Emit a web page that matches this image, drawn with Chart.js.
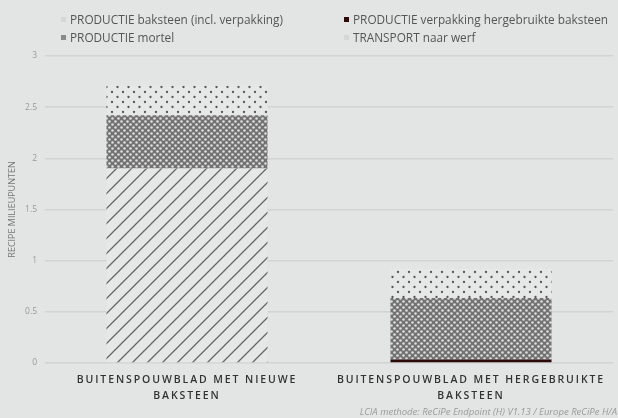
<!DOCTYPE html>
<html>
<head>
<meta charset="utf-8">
<script src="https://cdn.jsdelivr.net/npm/chart.js@4/dist/chart.umd.min.js"></script>
<style>
  html, body { margin: 0; padding: 0; background: #e3e4e4; }
  #wrap { position: relative; width: 618px; height: 418px; overflow: hidden; background: #e3e4e4; }
  canvas { position: absolute; left: 0; top: 0; }
  .lg { position: absolute; font-family: "Open Sans", sans-serif; font-size: 11.8px; line-height: 14px; color: #555; white-space: nowrap; }
  .sw { position: absolute; width: 5px; height: 5px; }
  #foot { position: absolute; right: 1px; top: 405px; font-family: "Open Sans", sans-serif; font-style: italic; font-size: 9.5px; line-height: 13px; color: #9a9a9a; white-space: nowrap; }
</style>
</head>
<body>
<div id="wrap">
  <canvas id="c" width="618" height="418"></canvas>
  <div id="legend"></div>
  <div id="foot">LCIA methode: ReCiPe Endpoint (H) V1.13 / Europe ReCiPe H/A</div>
</div>
<script>
// ---- data ----
const categories = [
  ['BUITENSPOUWBLAD MET NIEUWE', 'BAKSTEEN'],
  ['BUITENSPOUWBLAD MET HERGEBRUIKTE', 'BAKSTEEN']
];
const seriesNames = [
  'PRODUCTIE baksteen (incl. verpakking)',
  'PRODUCTIE verpakking hergebruikte baksteen',
  'PRODUCTIE mortel',
  'TRANSPORT naar werf'
];
const productieBaksteen = [1.9, 0];
const productieVerpakking = [0, 0.035];
const productieMortel = [0.52, 0.6];
const transportWerf = [0.29, 0.29];
const yTicks = [0, 0.5, 1, 1.5, 2, 2.5, 3];
const yTitle = 'RECIPE MILIEUPUNTEN';

// ---- patterns ----
const BG = '#e6e7e7';
function tile(w, h, draw) {
  const c = document.createElement('canvas');
  c.width = w; c.height = h;
  const x = c.getContext('2d');
  x.fillStyle = BG; x.fillRect(0, 0, w, h);
  draw(x);
  return document.getElementById('c').getContext('2d').createPattern(c, 'repeat');
}
const hatch = tile(15, 15, x => {
  x.strokeStyle = '#666'; x.lineWidth = 1.3;
  x.beginPath();
  x.moveTo(-2, 17); x.lineTo(17, -2);
  x.moveTo(-2, 2); x.lineTo(2, -2);
  x.moveTo(13, 17); x.lineTo(17, 13);
  x.stroke();
});
const cross = tile(6, 6, x => {
  x.fillStyle = '#727272'; x.fillRect(0, 0, 6, 6);
  x.fillStyle = '#dedede';
  [[1.5, 1.5], [4.5, 4.5]].forEach(p => { x.beginPath(); x.arc(p[0], p[1], 1.3, 0, Math.PI * 2); x.fill(); });
});
const dots = tile(11, 10, x => {
  x.fillStyle = '#555';
  [[2, 2], [7.5, 7]].forEach(p => { x.beginPath(); x.arc(p[0], p[1], 1.15, 0, Math.PI * 2); x.fill(); });
});

// ---- legend (HTML) ----
const legendItems = [
  { name: seriesNames[0], color: '#d6d6d6', x: 61, y: 19 },
  { name: seriesNames[1], color: '#2b0a0a', x: 344, y: 19 },
  { name: seriesNames[2], color: '#8a8a8a', x: 61, y: 37 },
  { name: seriesNames[3], color: '#d6d6d6', x: 344, y: 37 }
];
const lg = document.getElementById('legend');
legendItems.forEach(it => {
  const s = document.createElement('div');
  s.className = 'sw'; s.style.left = it.x + 'px'; s.style.top = (it.y - 2) + 'px'; s.style.background = it.color;
  lg.appendChild(s);
  const t = document.createElement('div');
  t.className = 'lg'; t.style.left = (it.x + 9) + 'px'; t.style.top = (it.y - 7) + 'px';
  t.textContent = it.name;
  lg.appendChild(t);
});

// ---- letter spacing for x labels ----
const spacingPlugin = {
  id: 'spacing',
  beforeDraw(chart) {
    const s = chart.scales.x;
    if (s && !s.__ls) {
      const orig = s.drawLabels;
      s.drawLabels = function (a) {
        const c = this.ctx; c.save(); c.letterSpacing = '1.9px'; orig.call(this, a); c.restore();
      };
      s.__ls = true;
    }
  }
};

new Chart(document.getElementById('c'), {
  type: 'bar',
  data: {
    labels: categories,
    datasets: [
      { label: seriesNames[0], data: productieBaksteen, backgroundColor: hatch },
      { label: seriesNames[1], data: productieVerpakking, backgroundColor: '#2b0a0a' },
      { label: seriesNames[2], data: productieMortel, backgroundColor: cross },
      { label: seriesNames[3], data: transportWerf, backgroundColor: dots }
    ]
  },
  options: {
    responsive: false,
    animation: false,
    layout: { padding: { left: 0, top: 56, right: 5, bottom: 0 } },
    plugins: { legend: { display: false }, tooltip: { enabled: false } },
    datasets: { bar: { barPercentage: 1, categoryPercentage: 0.567, borderWidth: 0 } },
    scales: {
      x: {
        stacked: true,
        grid: { display: false, drawTicks: false },
        border: { display: false },
        ticks: {
          padding: 9, maxRotation: 0, autoSkip: false, color: '#333',
          font: { family: 'Open Sans', size: 10.5, weight: '600', lineHeight: 1.5 }
        },
        afterFit(s) { s.height = 55; }
      },
      y: {
        stacked: true, min: 0, max: 3,
        afterBuildTicks(s) { s.ticks = yTicks.map(v => ({ value: v })); },
        grid: { color: '#d2d3d3', lineWidth: 1.5, drawTicks: false },
        border: { display: false },
        ticks: { padding: 8, color: '#999', font: { family: 'Open Sans', size: 8.5 }, callback: v => String(v) },
        title: { display: true, text: yTitle, color: '#777', padding: { top: 7, bottom: 0 }, font: { family: 'Open Sans', size: 9 } },
        afterFit(s) { s.width = 45; }
      }
    }
  },
  plugins: [spacingPlugin]
});
</script>
</body>
</html>
